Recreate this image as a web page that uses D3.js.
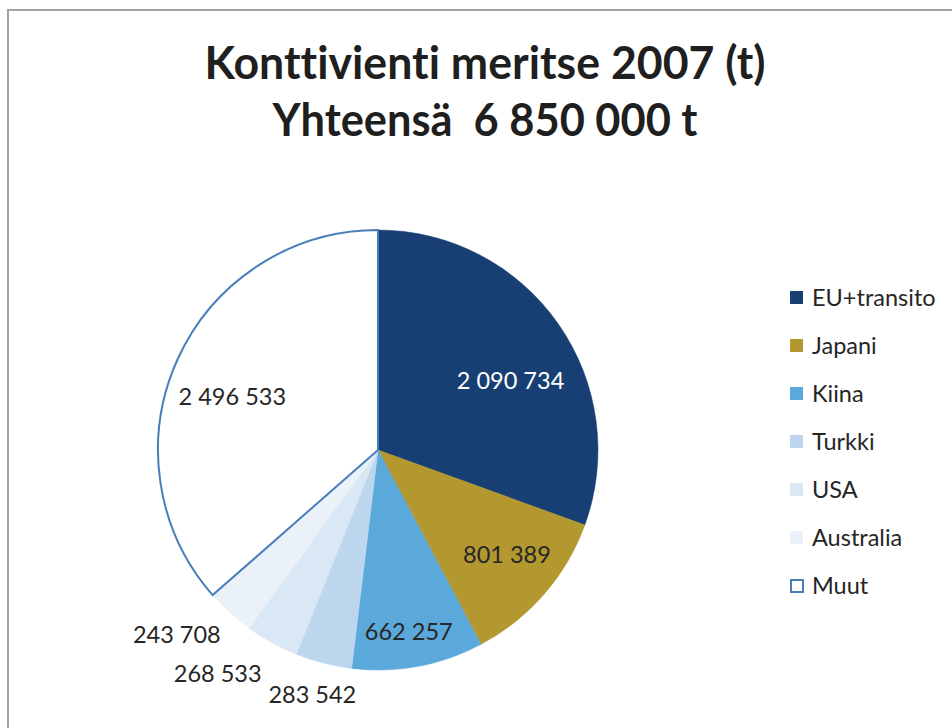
<!DOCTYPE html>
<html>
<head>
<meta charset="utf-8">
<script src="https://cdn.jsdelivr.net/npm/d3@7"></script>
<style>
  html, body { margin: 0; padding: 0; background: #ffffff; }
  svg { display: block; }
  text { font-variant-ligatures: none; font-feature-settings: "liga" 0, "clig" 0; }
</style>
</head>
<body>
<svg id="chart" width="952" height="728"></svg>
<script>
// ---- data ----
const categories = ["EU+transito", "Japani", "Kiina", "Turkki", "USA", "Australia", "Muut"];
const values = [2090734, 801389, 662257, 283542, 268533, 243708, 2496533];
const valueLabels = ["2 090 734", "801 389", "662 257", "283 542", "268 533", "243 708", "2 496 533"];
const colors = ["#183f74", "#b3972f", "#5ba8db", "#bcd6ee", "#dae7f4", "#eaf1f9", "#ffffff"];
const titleLines = ["Konttivienti meritse 2007 (t)", "Yhteensä  6 850 000 t"];

// ---- layout ----
const W = 952, H = 728;
const cx = 378, cy = 450, R = 220;
const fontFamily = "Lato, 'Open Sans', 'DejaVu Sans', sans-serif";
// label placement: angle shift (deg) from slice middle, radius as fraction of R
const labelPlacement = [
  { shift: 7.4, rf: 0.68 },
  { shift: -1.9, rf: 0.755 },
  { shift: 0.9, rf: 0.836 },
  { shift: 0.7, rf: 1.15 },
  { shift: 6.8, rf: 1.25 },
  { shift: 5.2, rf: 1.24 },
  { shift: -4.3, rf: 0.705 }
];
const labelColors = ["#ffffff", "#262626", "#262626", "#262626", "#262626", "#262626", "#262626"];

const svg = d3.select("#chart");

// frame
svg.append("rect")
  .attr("x", 8).attr("y", 10)
  .attr("width", W + 20).attr("height", H + 20)
  .attr("fill", "#ffffff")
  .attr("stroke", "#a3a3a3")
  .attr("stroke-width", 2);

// title
const titleG = svg.append("g");
const titleWidths = [561, 425];
titleLines.forEach((t, i) => {
  titleG.append("text")
    .attr("x", 485)
    .attr("y", 79 + i * 57)
    .attr("text-anchor", "middle")
    .attr("font-family", fontFamily)
    .attr("font-weight", 700)
    .attr("font-size", 46)
    .attr("fill", "#1f1f1f")
    .attr("textLength", titleWidths[i])
    .attr("lengthAdjust", "spacingAndGlyphs")
    .style("white-space", "pre")
    .text(t);
});

// pie
const data = categories.map((c, i) => ({ cat: c, value: values[i], label: valueLabels[i], idx: i }));
const pie = d3.pie().value(d => d.value).sort(null);
const arcs = pie(data);
const arc = d3.arc().innerRadius(0).outerRadius(R);

const g = svg.append("g").attr("transform", `translate(${cx},${cy})`);

// draw others first, Muut (outlined) last
const order = arcs.slice().sort((a, b) => (a.data.cat === "Muut") - (b.data.cat === "Muut"));
g.selectAll("path.slice")
  .data(order)
  .join("path")
  .attr("class", "slice")
  .attr("d", arc)
  .attr("fill", d => colors[d.data.idx])
  .attr("stroke", d => d.data.cat === "Muut" ? "#4a7ebb" : colors[d.data.idx])
  .attr("stroke-width", d => d.data.cat === "Muut" ? 2 : 0.5)
  .attr("stroke-linejoin", "miter");

// labels
g.selectAll("text.lbl")
  .data(arcs)
  .join("text")
  .attr("class", "lbl")
  .attr("transform", d => {
    const p = labelPlacement[d.data.idx];
    const a = (d.startAngle + d.endAngle) / 2 + p.shift * Math.PI / 180;
    const r = p.rf * R;
    return `translate(${r * Math.sin(a)},${-r * Math.cos(a)})`;
  })
  .attr("text-anchor", "middle")
  .attr("dy", "0.36em")
  .attr("font-family", fontFamily)
  .attr("font-size", 23.5)
  .attr("fill", d => labelColors[d.data.idx])
  .text(d => d.data.label);

// legend
const lg = svg.append("g").attr("transform", "translate(790,291)");
const items = lg.selectAll("g.item")
  .data(categories)
  .join("g")
  .attr("class", "item")
  .attr("transform", (d, i) => `translate(0,${i * 48})`);

items.append("rect")
  .attr("x", d => d === "Muut" ? 1 : 0)
  .attr("y", d => d === "Muut" ? 1 : 0)
  .attr("width", d => d === "Muut" ? 12 : 13)
  .attr("height", d => d === "Muut" ? 12 : 13)
  .attr("fill", (d, i) => colors[i])
  .attr("stroke", d => d === "Muut" ? "#4a7ebb" : "none")
  .attr("stroke-width", 2);

items.append("text")
  .attr("x", 22)
  .attr("y", 15)
  .attr("font-family", fontFamily)
  .attr("font-size", 23.5)
  .attr("fill", "#262626")
  .text(d => d);
</script>
</body>
</html>
